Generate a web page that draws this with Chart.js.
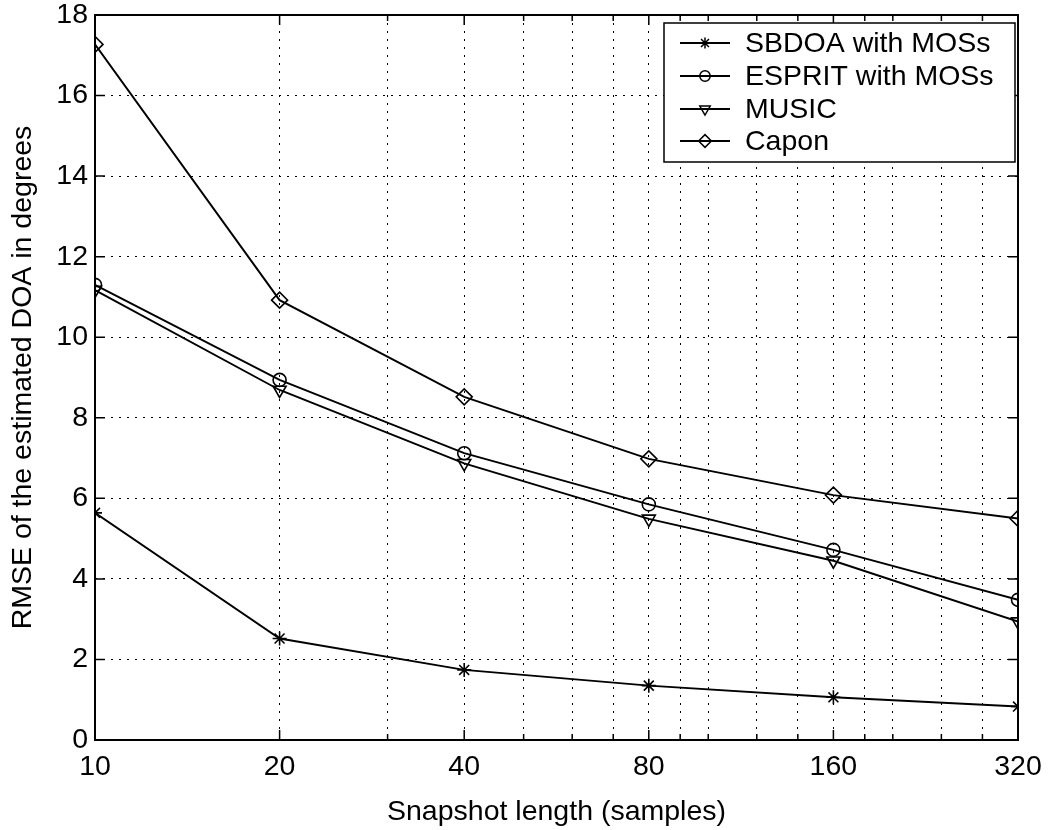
<!DOCTYPE html>
<html>
<head>
<meta charset="utf-8">
<script src="https://cdn.jsdelivr.net/npm/chart.js@4"></script>
<style>
html,body{margin:0;padding:0;background:#fff;}
#wrap{width:1060px;height:830px;position:relative;}
</style>
</head>
<body>
<div id="wrap"><canvas id="c" width="1060" height="830"></canvas></div>
<script>
// ---- data ----
const snapshotLengths = [10, 20, 40, 80, 160, 320];
const sbdoaMOS  = [5.64, 2.52, 1.74, 1.35, 1.06, 0.83];
const espritMOS = [11.30, 8.94, 7.12, 5.85, 4.72, 3.48];
const music     = [11.17, 8.69, 6.87, 5.49, 4.45, 2.94];
const capon     = [17.27, 10.92, 8.52, 6.98, 6.08, 5.50];
const seriesNames = ['SBDOA with MOSs', 'ESPRIT with MOSs', 'MUSIC', 'Capon'];
const xTickLabels = [10, 20, 40, 80, 160, 320];
const xGridValues = [10, 20, 30, 40, 50, 60, 70, 80, 90, 100, 120, 140, 160, 180, 200, 240, 280, 320];
const yTickValues = [0, 2, 4, 6, 8, 10, 12, 14, 16, 18];

const FONT = "'Liberation Sans', Arial, Helvetica, sans-serif";
const FS = 28.5;

function pts(vals){ return snapshotLengths.map((x,i)=>({x:x, y:vals[i]})); }

const markerDefs = [
  {pointStyle:'star', radius:7, rotation:0},
  {pointStyle:'circle', radius:6.5, rotation:0},
  {pointStyle:'triangle', radius:7.5, rotation:180},
  {pointStyle:'rectRot', radius:8, rotation:0}
];
const seriesVals = [sbdoaMOS, espritMOS, music, capon];

const datasets = seriesVals.map((v,i)=>({
  label: seriesNames[i],
  data: pts(v),
  borderColor:'#000',
  borderWidth:1.9,
  backgroundColor:'rgba(0,0,0,0)',
  pointStyle: markerDefs[i].pointStyle,
  pointRadius: markerDefs[i].radius,
  pointRotation: markerDefs[i].rotation,
  pointBorderColor:'#000',
  pointBackgroundColor:'rgba(0,0,0,0)',
  pointBorderWidth:1.6,
  tension:0,
  fill:false
}));

const PLOT = {left:95, right:1018, top:15, bottom:740};

const boxTicksPlugin = {
  id:'boxTicks',
  afterDatasetsDraw(chart){
    const ctx = chart.ctx, a = chart.chartArea;
    const xs = chart.scales.x, ys = chart.scales.y;
    ctx.save();
    ctx.strokeStyle = '#000';
    ctx.lineWidth = 2;
    ctx.strokeRect(a.left, a.top, a.right - a.left, a.bottom - a.top);
    ctx.lineWidth = 1.5;
    ctx.beginPath();
    yTickValues.forEach(v=>{
      const p = ys.getPixelForValue(v);
      ctx.moveTo(a.left, p); ctx.lineTo(a.left + 10, p);
      ctx.moveTo(a.right, p); ctx.lineTo(a.right - 10, p);
    });
    xGridValues.forEach(v=>{
      const p = xs.getPixelForValue(v);
      const L = xTickLabels.includes(v) ? 10 : 6;
      ctx.moveTo(p, a.bottom); ctx.lineTo(p, a.bottom - L);
      ctx.moveTo(p, a.top); ctx.lineTo(p, a.top + L);
    });
    ctx.stroke();
    ctx.restore();
  },
  afterDraw(chart){
    // legend
    const ctx = chart.ctx;
    const bx = 664, by = 23, bw = 351, bh = 139;
    ctx.save();
    ctx.fillStyle = '#fff';
    ctx.fillRect(bx, by, bw, bh);
    ctx.strokeStyle = '#000';
    ctx.lineWidth = 1.5;
    ctx.strokeRect(bx, by, bw, bh);
    const rows = [43, 76, 109, 141];
    chart.data.datasets.forEach((ds,i)=>{
      const y = rows[i];
      ctx.strokeStyle = '#000';
      ctx.lineWidth = 1.9;
      ctx.beginPath(); ctx.moveTo(680, y); ctx.lineTo(730, y); ctx.stroke();
      ctx.lineWidth = 1.5;
      ctx.fillStyle = 'rgba(0,0,0,0)';
      Chart.helpers.drawPoint(ctx, {pointStyle: ds.pointStyle, radius: ds.pointRadius*0.8, rotation: ds.pointRotation, borderWidth: 1.5}, 705, y);
      ctx.fillStyle = '#000';
      ctx.font = FS + "px " + FONT;
      ctx.textBaseline = 'middle';
      ctx.textAlign = 'left';
      ctx.fillText(ds.label, 745, y + 1);
    });
    ctx.restore();
  }
};

new Chart(document.getElementById('c'), {
  type:'line',
  data:{datasets},
  options:{
    responsive:false,
    animation:false,
    layout:{padding:{left:0, right:1060-PLOT.right, top:PLOT.top, bottom:0}},
    plugins:{legend:{display:false}, tooltip:{enabled:false}},
    scales:{
      x:{
        type:'logarithmic',
        min:10, max:320,
        afterBuildTicks(scale){ scale.ticks = xGridValues.map(v=>({value:v})); },
        afterFit(scale){ scale.height = 830 - PLOT.bottom; scale.paddingLeft = 0; scale.paddingRight = 0; },
        ticks:{
          autoSkip:false, maxRotation:0, minRotation:0,
          color:'#000', padding:10,
          font:{family:FONT, size:FS},
          callback(v){ return xTickLabels.includes(v) ? String(v) : ''; }
        },
        grid:{color:'#000', lineWidth:1, drawTicks:false},
        border:{display:false, dash:[2,6]},
        title:{display:true, text:'Snapshot length (samples)', color:'#000',
               font:{family:FONT, size:FS}, padding:{top:0,bottom:1}}
      },
      y:{
        min:0, max:18,
        afterBuildTicks(scale){ scale.ticks = yTickValues.map(v=>({value:v})); },
        afterFit(scale){ scale.width = PLOT.left; scale.paddingTop = 0; scale.paddingBottom = 0; },
        ticks:{color:'#000', padding:7, font:{family:FONT, size:FS}},
        grid:{color:'#000', lineWidth:1, drawTicks:false},
        border:{display:false, dash:[2,6]},
        title:{display:true, text:'RMSE of the estimated DOA in degrees', color:'#000',
               font:{family:FONT, size:FS}, padding:{top:6,bottom:0}}
      }
    }
  },
  plugins:[boxTicksPlugin]
});
</script>
</body>
</html>
